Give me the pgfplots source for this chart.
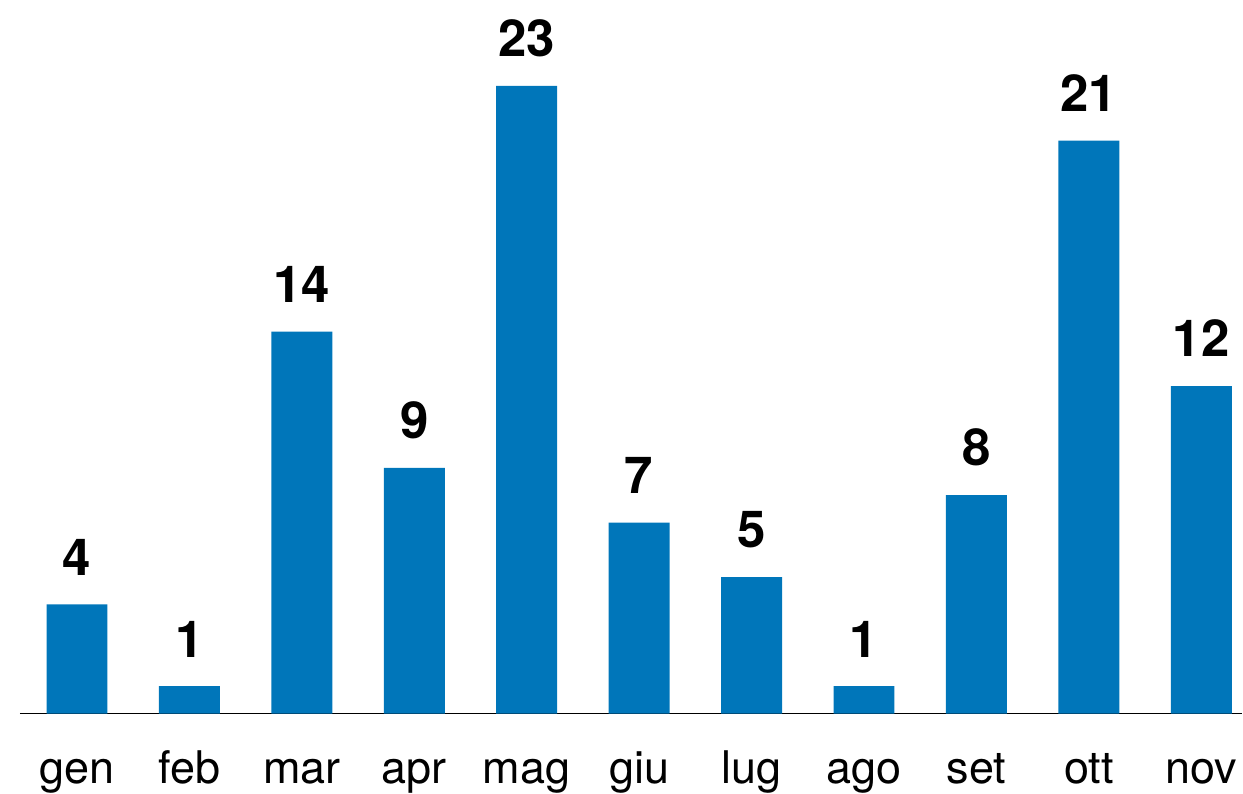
\documentclass[border=0pt]{standalone}
\usepackage{pgfplots}
\pgfplotsset{compat=1.18}
\usepackage{fontspec}
\setmainfont{TeX Gyre Heros}
\definecolor{barblue}{RGB}{0,118,186}
\begin{document}
\begin{tikzpicture}
\begin{axis}[
  scale only axis,
  width=1223pt, height=714pt,
  xmin=-0.507, xmax=10.364,
  ymin=0, ymax=26.15,
  axis x line*=bottom,
  axis y line=none,
  x axis line style={line width=1.6pt, -},
  xtick=data,
  xticklabels={gen,feb,mar,apr,mag,giu,lug,ago,set,ott,nov},
  major tick length=0pt,
  xticklabel style={anchor=base, inner sep=0pt, yshift=-70pt, font=\fontsize{45}{50}\selectfont},
  ybar, bar width=61pt,
  nodes near coords={\fontsize{51}{56}\selectfont\bfseries\pgfmathprintnumber[assume math mode=true]{\pgfplotspointmeta}},
  every node near coord/.append style={anchor=south, inner sep=0pt, yshift=29pt, text=black},
  clip=false,
]
\addplot[fill=barblue, draw=none] coordinates {
(0,4) (1,1) (2,14) (3,9) (4,23) (5,7) (6,5) (7,1) (8,8) (9,21) (10,12)
};
\end{axis}
\path ([xshift=-20pt]current axis.south west) (current axis.north east);
\end{tikzpicture}
\end{document}
